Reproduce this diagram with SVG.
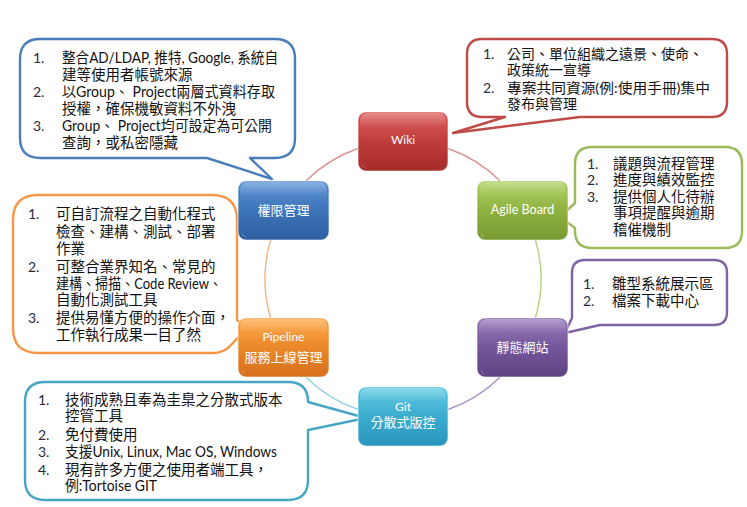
<svg xmlns="http://www.w3.org/2000/svg" width="747" height="507" viewBox="0 0 747 507">
<defs>
<linearGradient id="gRed" x1="0" y1="0" x2="0" y2="1"><stop offset="0" stop-color="#d84e4c"/><stop offset="1" stop-color="#a62b29"/></linearGradient>
<linearGradient id="gBlue" x1="0" y1="0" x2="0" y2="1"><stop offset="0" stop-color="#4a88cf"/><stop offset="1" stop-color="#2e5fa2"/></linearGradient>
<linearGradient id="gGreen" x1="0" y1="0" x2="0" y2="1"><stop offset="0" stop-color="#a6cb52"/><stop offset="1" stop-color="#77982f"/></linearGradient>
<linearGradient id="gOrange" x1="0" y1="0" x2="0" y2="1"><stop offset="0" stop-color="#fd9f38"/><stop offset="1" stop-color="#d6701b"/></linearGradient>
<linearGradient id="gPurple" x1="0" y1="0" x2="0" y2="1"><stop offset="0" stop-color="#8b6ab2"/><stop offset="1" stop-color="#5d4383"/></linearGradient>
<linearGradient id="gCyan" x1="0" y1="0" x2="0" y2="1"><stop offset="0" stop-color="#4fc3e0"/><stop offset="1" stop-color="#2996bd"/></linearGradient>
<linearGradient id="gloss" x1="0" y1="0" x2="0" y2="1"><stop offset="0" stop-color="#fff" stop-opacity="0.35"/><stop offset="0.5" stop-color="#fff" stop-opacity="0.05"/><stop offset="1" stop-color="#fff" stop-opacity="0"/></linearGradient>
</defs>
<style>
.node{stroke:#ffffff;stroke-opacity:0.55;stroke-width:1.2}
.gl{fill:url(#gloss)}
.glare{fill:#fff;opacity:0.85}
.nt{font-family:Lato,"Noto Sans CJK TC",sans-serif;fill:#fff;text-anchor:middle}
.lat{font-size:12px}
.cjk{font-size:13px}
.arc{fill:none;stroke-width:1.4}
.bub{fill:#fff;stroke-width:2.4;stroke-linejoin:round}
.bt{font-family:Lato,"Noto Sans CJK TC",sans-serif;font-size:14.5px;fill:#111}
.sm{font-size:14px}
.num{font-family:Lato,"Noto Sans CJK TC",sans-serif;font-size:14px;fill:#2a2a3a}
</style>
<rect width="747" height="507" fill="#fff"/>

<g id="connectors">
<path class="arc" stroke="#d99593" d="M448,148.5 A138,138 0 0 1 500.2,181"/>
<path class="arc" stroke="#b5d07c" d="M535.4,240 A138,138 0 0 1 535.4,318"/>
<path class="arc" stroke="#a892c4" d="M500.2,377 A138,138 0 0 1 448,409.5"/>
<path class="arc" stroke="#92d0e2" d="M358,409.5 A138,138 0 0 1 305.8,377"/>
<path class="arc" stroke="#f8b57c" d="M270.6,318 A138,138 0 0 1 270.6,240"/>
<path class="arc" stroke="#d99593" d="M305.8,181 A138,138 0 0 1 358,148.5"/>
</g>

<g id="callout-auth">
<path class="bub" stroke="#4a7ebb" d="M40,39 H275 Q295,39 295,59 V138 Q295,158 275,158 H250 L272,179 L207,158 H40 Q20,158 20,138 V59 Q20,39 40,39 Z"/>
<text class="num" x="33" y="63">1.</text><text class="bt" x="62" y="63" textLength="216" lengthAdjust="spacingAndGlyphs">整合AD/LDAP, 推特, Google, 系統自</text>
<text class="bt" x="62" y="80">建等使用者帳號來源</text>
<text class="num" x="33" y="97">2.</text><text class="bt" x="62" y="97" textLength="213" lengthAdjust="spacingAndGlyphs">以Group、 Project兩層式資料存取</text>
<text class="bt" x="62" y="114">授權，確保機敏資料不外洩</text>
<text class="num" x="33" y="131">3.</text><text class="bt" x="62" y="131" textLength="210" lengthAdjust="spacingAndGlyphs">Group、 Project均可設定為可公開</text>
<text class="bt" x="62" y="148">查詢，或私密隱藏</text>
</g>

<g id="callout-wiki">
<path class="bub" stroke="#be4b48" d="M482,39 H712 Q727,39 727,54 V102 Q727,117 712,117 H580 L453,133 L505,117 H482 Q467,117 467,102 V54 Q467,39 482,39 Z"/>
<text class="num" x="483" y="59">1.</text><text class="bt sm" x="507" y="59">公司、單位組織之遠景、使命、</text>
<text class="bt sm" x="507" y="75">政策統一宣導</text>
<text class="num" x="483" y="93">2.</text><text class="bt sm" x="507" y="93" textLength="203" lengthAdjust="spacingAndGlyphs">專案共同資源(例:使用手冊)集中</text>
<text class="bt sm" x="507" y="109">發布與管理</text>
</g>

<g id="callout-agile">
<path class="bub" stroke="#9bbb59" d="M592,147 H725 Q742,147 742,164 V231 Q742,248 725,248 H592 Q575,248 575,231 V228 L560,217 L575,203 V164 Q575,147 592,147 Z"/>
<text class="num" x="587" y="169">1.</text><text class="bt" x="613" y="169">議題與流程管理</text>
<text class="num" x="587" y="185">2.</text><text class="bt" x="613" y="185">進度與績效監控</text>
<text class="num" x="587" y="202">3.</text><text class="bt" x="613" y="202">提供個人化待辦</text>
<text class="bt" x="613" y="218">事項提醒與逾期</text>
<text class="bt" x="613" y="235">稽催機制</text>
</g>

<g id="callout-static">
<path class="bub" stroke="#8064a2" d="M585,260 H714 Q727,260 727,273 V312 Q727,325 714,325 H600 L565,333 L572,318 V273 Q572,260 585,260 Z"/>
<text class="num" x="583" y="289">1.</text><text class="bt" x="612" y="289">雛型系統展示區</text>
<text class="num" x="583" y="306">2.</text><text class="bt" x="612" y="306">檔案下載中心</text>
</g>

<g id="callout-pipeline">
<path class="bub" stroke="#f79646" d="M38,195 H212 Q237,195 237,220 V320 L246,329 L230,346 Q224,353 212,353 H38 Q13,353 13,328 V220 Q13,195 38,195 Z"/>
<text class="num" x="28" y="219">1.</text><text class="bt" x="56" y="219">可自訂流程之自動化程式</text>
<text class="bt" x="56" y="237">檢查、建構、測試、部署</text>
<text class="bt" x="56" y="254">作業</text>
<text class="num" x="28" y="272">2.</text><text class="bt" x="56" y="272">可整合業界知名、常見的</text>
<text class="bt" x="56" y="289" textLength="166" lengthAdjust="spacingAndGlyphs">建構、掃描、Code Review、</text>
<text class="bt" x="56" y="305">自動化測試工具</text>
<text class="num" x="28" y="323">3.</text><text class="bt" x="56" y="323">提供易懂方便的操作介面，</text>
<text class="bt" x="56" y="340">工作執行成果一目了然</text>
</g>

<g id="callout-git">
<path class="bub" stroke="#46a6c4" d="M45,382 H288 Q308,382 308,402 L366,418 L308,430 V480 Q308,500 288,500 H45 Q25,500 25,480 V402 Q25,382 45,382 Z"/>
<text class="num" x="38" y="405">1.</text><text class="bt" x="65" y="405">技術成熟且奉為圭臬之分散式版本</text>
<text class="bt" x="65" y="421">控管工具</text>
<text class="num" x="38" y="440">2.</text><text class="bt" x="65" y="440">免付費使用</text>
<text class="num" x="38" y="457">3.</text><text class="bt" x="65" y="457" textLength="212" lengthAdjust="spacingAndGlyphs">支援Unix, Linux, Mac OS, Windows</text>
<text class="num" x="38" y="475">4.</text><text class="bt" x="65" y="475">現有許多方便之使用者端工具，</text>
<text class="bt" x="65" y="491" textLength="92" lengthAdjust="spacingAndGlyphs">例:Tortoise GIT</text>
</g>

<g id="node-wiki">
<rect class="node" x="358" y="112" width="90" height="59" rx="8" fill="url(#gRed)"/>
<rect class="gl" x="360" y="113" width="86" height="28" rx="7"/>
<path class="glare" d="M361,162 Q362,167 367,169 Q362,166 361,162 Z"/>
<text class="nt lat" x="403" y="144">Wiki</text>
</g>

<g id="node-auth">
<rect class="node" x="238" y="181" width="91" height="59" rx="8" fill="url(#gBlue)"/>
<rect class="gl" x="240" y="182" width="87" height="28" rx="7"/>
<path class="glare" d="M241,231 Q242,236 247,238 Q242,235 241,231 Z"/>
<text class="nt cjk" x="283.5" y="215">權限管理</text>
</g>

<g id="node-agile">
<rect class="node" x="477" y="181" width="91" height="59" rx="8" fill="url(#gGreen)"/>
<rect class="gl" x="479" y="182" width="87" height="28" rx="7"/>
<path class="glare" d="M480,231 Q481,236 486,238 Q481,235 480,231 Z"/>
<text class="nt" style="font-size:12.5px" x="522.5" y="214">Agile Board</text>
</g>

<g id="node-static">
<rect class="node" x="477" y="318" width="91" height="59" rx="8" fill="url(#gPurple)"/>
<rect class="gl" x="479" y="319" width="87" height="28" rx="7"/>
<path class="glare" d="M480,368 Q481,373 486,375 Q481,372 480,368 Z"/>
<text class="nt cjk" x="522.5" y="352">靜態網站</text>
</g>

<g id="node-git">
<rect class="node" x="358" y="387" width="90" height="59" rx="8" fill="url(#gCyan)"/>
<rect class="gl" x="360" y="388" width="86" height="28" rx="7"/>
<text class="nt lat" x="403" y="411">Git</text>
<text class="nt cjk" x="403" y="427">分散式版控</text>
</g>

<g id="node-pipeline">
<rect class="node" x="238" y="318" width="91" height="59" rx="8" fill="url(#gOrange)"/>
<rect class="gl" x="240" y="319" width="87" height="28" rx="7"/>
<path class="glare" d="M241,368 Q242,373 247,375 Q242,372 241,368 Z"/>
<text class="nt lat" x="283.5" y="341">Pipeline</text>
<text class="nt cjk" x="283.5" y="362">服務上線管理</text>
</g>
</svg>
